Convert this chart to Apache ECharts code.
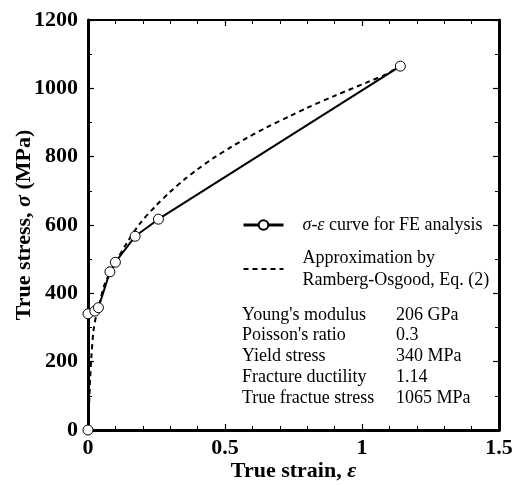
<!DOCTYPE html>
<html>
<head>
<meta charset="utf-8">
<script src="https://cdn.jsdelivr.net/npm/echarts@6/dist/echarts.min.js"></script>
<style>
html,body{margin:0;padding:0;background:#fff;}
#chart{width:513px;height:485px;}
</style>
</head>
<body>
<div id="chart"></div>
<script>
// FE analysis stress-strain curve (points with markers)
var feStrain = [0, 0, 0.025, 0.038, 0.08, 0.1, 0.172, 0.257, 1.14];
var feStress = [0, 340, 348, 358, 463, 491, 567, 617, 1065];
// Ramberg-Osgood approximation (dashed)
var roStrain = [0, 0.008, 0.012, 0.02, 0.03, 0.04, 0.06, 0.08, 0.1, 0.14, 0.19, 0.25, 0.30, 0.35, 0.40, 0.46, 0.52, 0.58, 0.65, 0.74, 0.80, 0.90, 1.02, 1.09, 1.14];
var roStress = [0, 150, 210, 290, 336, 365, 425, 460, 490, 545, 605, 658, 697, 732, 763, 797, 827, 855, 885, 920, 943, 978, 1018, 1042, 1065];
// Material properties table
var propNames = ["Young's modulus", "Poisson's ratio", "Yield stress", "Fracture ductility", "True fractue stress"];
var propValues = ["206 GPa", "0.3", "340 MPa", "1.14", "1065 MPa"];
// Axis ranges / ticks
var xMin = 0, xMax = 1.5, xStep = 0.5;
var yMin = 0, yMax = 1200, yStep = 200;

function pairs(a, b) { return a.map(function (v, i) { return [v, b[i]]; }); }

var serif = "'Liberation Serif', 'DejaVu Serif', serif";
var chart = echarts.init(document.getElementById('chart'));

var graphics = [];
var rowTop = 306;
propNames.forEach(function (n, i) {
  graphics.push({ type: 'text', left: 242, top: rowTop + i * 20.7,
    style: { text: n, font: '18px ' + serif, fill: '#000' } });
  graphics.push({ type: 'text', left: 396, top: rowTop + i * 20.7,
    style: { text: propValues[i], font: '18px ' + serif, fill: '#000' } });
});

function mkAxis(extra) {
  var base = {
    type: 'value',
    axisLine: { show: true, onZero: false, lineStyle: { color: '#000', width: 3 } },
    axisTick: { show: true, inside: true, length: 6, lineStyle: { color: '#000', width: 1.2 } },
    minorTick: { show: true, splitNumber: 2, length: 4, lineStyle: { color: '#000', width: 1 } },
    splitLine: { show: false },
    minorSplitLine: { show: false },
    axisLabel: { show: false }
  };
  return Object.assign(base, extra);
}

var tickFont = { fontFamily: serif, fontSize: 22, fontWeight: 'bold', color: '#000' };

var option = {
  animation: false,
  backgroundColor: '#fff',
  grid: { left: 88, right: 14, top: 20, bottom: 55, containLabel: false, outerBoundsMode: 'none' },
  legend: {
    left: 242, top: 216, padding: 0, orient: 'vertical', itemWidth: 40, itemHeight: 12, itemGap: 15,
    selectedMode: false,
    textStyle: {
      fontFamily: serif, fontSize: 18, color: '#000', padding: [0, 0, 0, 14],
      rich: {
        i: { fontFamily: serif, fontSize: 18, fontStyle: 'italic', color: '#000' },
        n: { fontFamily: serif, fontSize: 18, color: '#000', lineHeight: 22 }
      }
    },
    formatter: function (name) {
      if (name === 'FE') return '{i|σ-ε} {n|curve for FE analysis}';
      return '{n|Approximation by}\n{n|Ramberg-Osgood, Eq. (2)}';
    },
    data: [
      { name: 'FE', lineStyle: { width: 3 } },
      { name: 'RO', itemStyle: { opacity: 0 } }
    ]
  },
  xAxis: [
    mkAxis({
      position: 'bottom', min: xMin, max: xMax, interval: xStep,
      minorTick: { show: true, splitNumber: 5, length: 4, lineStyle: { color: '#000', width: 1 } },
      axisLabel: Object.assign({ show: true, margin: 7 }, tickFont),
      name: 'True strain, {e|ε}', nameLocation: 'middle', nameGap: 30, nameMoveOverlap: false,
      nameTextStyle: { fontFamily: serif, fontSize: 22, fontWeight: 'bold', color: '#000',
        rich: { e: { fontFamily: serif, fontSize: 22, fontWeight: 'bold', fontStyle: 'italic', color: '#000' } } }
    }),
    mkAxis({
      position: 'top', min: xMin, max: xMax, interval: xStep,
      axisLine: { show: true, onZero: false, lineStyle: { color: '#000', width: 2 } },
      minorTick: { show: true, splitNumber: 5, length: 4, lineStyle: { color: '#000', width: 1 } }
    })
  ],
  yAxis: [
    mkAxis({
      position: 'left', min: yMin, max: yMax, interval: yStep,
      axisLabel: Object.assign({ show: true, margin: 10, formatter: function (v) { return String(v); } }, tickFont),
      name: 'True stress, {s|σ} (MPa)', nameLocation: 'middle', nameGap: 53, nameMoveOverlap: false,
      nameTextStyle: { fontFamily: serif, fontSize: 22, fontWeight: 'bold', color: '#000',
        rich: { s: { fontFamily: serif, fontSize: 22, fontWeight: 'bold', fontStyle: 'italic', color: '#000' } } }
    }),
    mkAxis({
      position: 'right', min: yMin, max: yMax, interval: yStep
    })
  ],
  graphic: graphics,
  series: [
    {
      name: 'RO', type: 'line', data: pairs(roStrain, roStress), smooth: 0.3,
      showSymbol: false, symbol: 'none',
      lineStyle: { color: '#000', width: 2, type: [5, 4] },
      itemStyle: { color: '#000' }, z: 2
    },
    {
      name: 'FE', type: 'line', data: pairs(feStrain, feStress),
      symbol: 'circle', symbolSize: 10, showSymbol: true,
      lineStyle: { color: '#000', width: 2 },
      itemStyle: { color: '#fff', borderColor: '#000', borderWidth: 1 }, z: 3
    }
  ]
};
chart.setOption(option);
</script>
</body>
</html>
